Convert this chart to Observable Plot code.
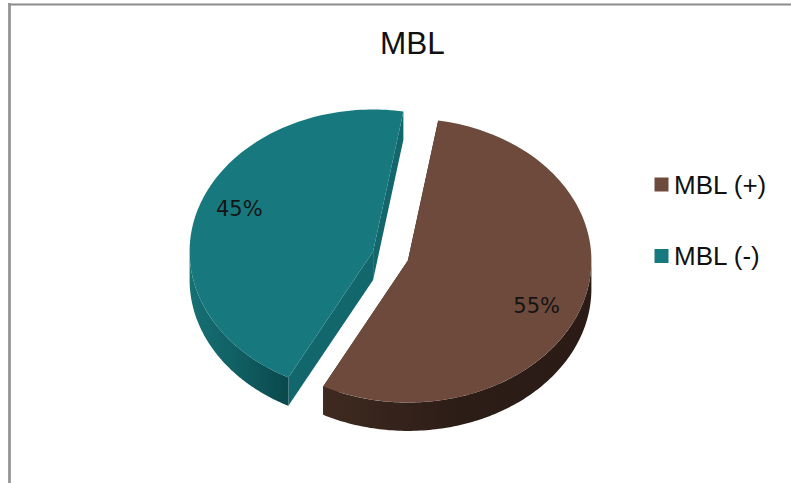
<!DOCTYPE html>
<html>
<head>
<meta charset="utf-8">
<title>MBL</title>
<script src="https://cdn.jsdelivr.net/npm/d3@7"></script>
<script src="https://cdn.jsdelivr.net/npm/@observablehq/plot@0.6"></script>
<style>
  html, body { margin: 0; padding: 0; background: #fff; }
  svg { display: block; }
</style>
</head>
<body>
<script>
// Share of MBL-positive and MBL-negative results
const categories = ["MBL (+)", "MBL (-)"];
const shares = [55, 45];
const topColors = ["#6e4a3c", "#17797e"];
const faceColors = ["#2b1c17", "#11676b"];
const rimGradients = ["rim-plus", "rim-minus"];
const rimStops = [
  ["#3e2a20", "#2d1d17", "#2a1b16"],
  ["#167074", "#105e62", "#0a484b"]
];

// Pie layout, in units of the pie radius and in degrees clockwise from the top
const firstSliceAngle = 9.5;
const explosion = 0.1;
const depth = 0.2;
const labelRadius = 0.78;
const labelTurn = 5;
const rad = Math.PI / 180;

const total = d3.sum(shares);
let running = firstSliceAngle;
const slices = categories.map((name, i) => {
  const start = running;
  const end = (running += (shares[i] / total) * 360);
  const mid = (start + end) / 2;
  return {
    name, i, start, end, mid,
    ox: explosion * Math.sin(mid * rad),
    oy: explosion * Math.cos(mid * rad)
  };
});

const rimPoint = (s, a, drop = 0) => ({
  x: s.ox + Math.sin(a * rad),
  y: s.oy + Math.cos(a * rad) - drop
});
const hub = (s, drop = 0) => ({ x: s.ox, y: s.oy - drop });

function arc(s, from, to, drop = 0) {
  return d3.range(0, 121).map((k) => rimPoint(s, from + ((to - from) * k) / 120, drop));
}

// Top surface of a slice
const wedge = (s) => [hub(s), ...arc(s, s.start, s.end)];
// Curved outer wall: only the part that faces the viewer, between 90 and 270 degrees
function wall(s) {
  const from = Math.max(s.start, 90);
  const to = Math.min(s.end, 270);
  return [...arc(s, from, to), ...arc(s, to, from, depth)];
}
// Flat wall on one of the two cut edges
const cut = (s, a) => [hub(s), rimPoint(s, a), rimPoint(s, a, depth), hub(s, depth)];

const polygon = (points, fill) => Plot.line(points, { x: "x", y: "y", fill, stroke: "none" });

// Horizontal shading of the curved walls
function gradients() {
  const defs = d3.create("svg:defs");
  rimGradients.forEach((id, i) => {
    const g = defs.append("linearGradient").attr("id", id);
    rimStops[i].forEach((c, k, all) =>
      g.append("stop").attr("offset", k / (all.length - 1)).attr("stop-color", c)
    );
  });
  return defs.node();
}

const marginLeft = 9;
const marginTop = 4;

const legendMarks = categories.flatMap((name, i) => [
  Plot.dot([name], {
    frameAnchor: "top-left",
    dx: 652,
    dy: 180 + i * 71.5,
    symbol: "square",
    r: 7.9,
    fill: topColors[i],
    stroke: "none"
  }),
  Plot.text([name], {
    frameAnchor: "top-left",
    dx: 664.5,
    dy: 171 + i * 71.5,
    text: (d) => d,
    fontFamily: "Liberation Sans",
    fontSize: 26,
    fill: "#111"
  })
]);

const chart = Plot.plot({
  width: 791,
  height: 483,
  marginLeft,
  marginTop,
  marginRight: 0,
  marginBottom: 0,
  style: { background: "#fff", overflow: "hidden" },
  x: { domain: [-1, 1], range: [206.5, 573.5], axis: null },
  y: { domain: [-1, 1], range: [397.5, 113.5], axis: null },
  marks: [
    gradients,
    Plot.frame({ anchor: "top", stroke: "#8a8a8a", strokeWidth: 2.2 }),
    Plot.frame({ anchor: "left", stroke: "#959595", strokeWidth: 2.8 }),
    // Slices are painted from their hidden walls up to their top surfaces
    ...slices.flatMap((s) => [
      polygon(cut(s, s.start), faceColors[s.i]),
      polygon(cut(s, s.end), faceColors[s.i]),
      polygon(wall(s), `url(#${rimGradients[s.i]})`),
      polygon(wedge(s), topColors[s.i])
    ]),
    Plot.text(slices, {
      x: (s) => s.ox + labelRadius * Math.sin((s.mid + labelTurn) * rad),
      y: (s) => s.oy + labelRadius * Math.cos((s.mid + labelTurn) * rad),
      dx: -2.5,
      dy: 1.5,
      text: (s) => `${shares[s.i]}%`,
      fontFamily: "DejaVu Sans",
      fontSize: 21,
      fill: "#141414"
    }),
    Plot.text(["MBL"], {
      frameAnchor: "top-left",
      dx: 370.5,
      dy: 27.5,
      text: (d) => d,
      fontFamily: "Liberation Sans",
      fontSize: 31.5,
      fill: "#111"
    }),
    ...legendMarks
  ]
});

document.body.appendChild(chart);
</script>
</body>
</html>
